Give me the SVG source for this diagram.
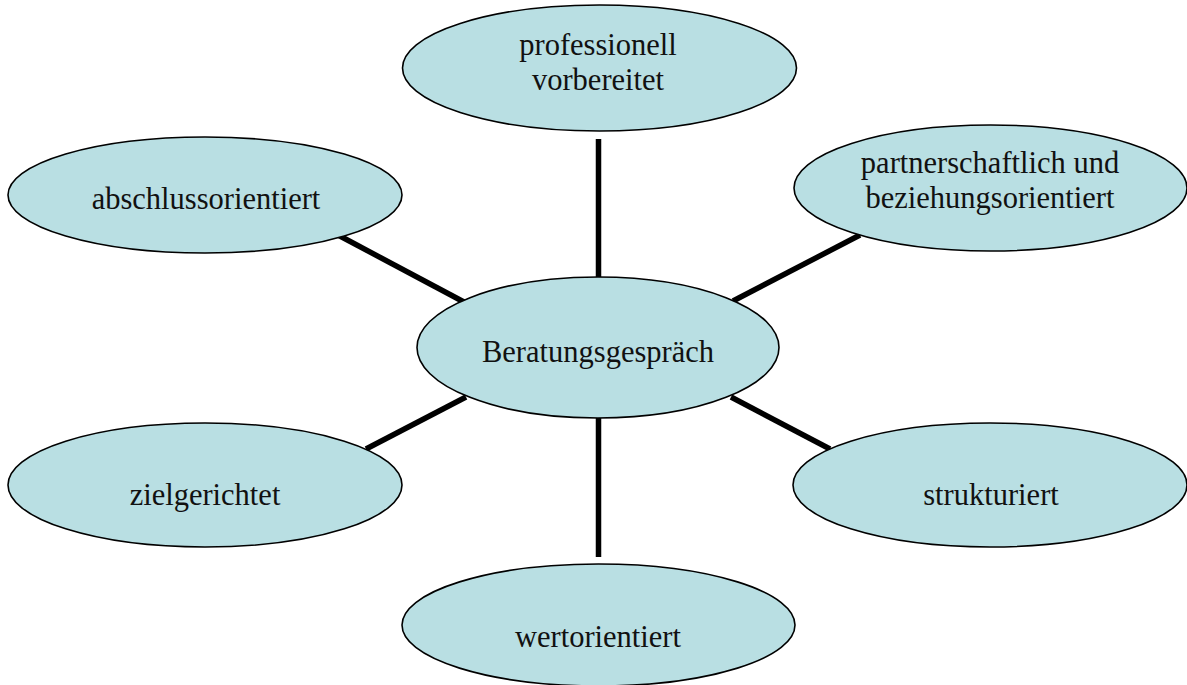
<svg xmlns="http://www.w3.org/2000/svg" width="1187" height="685" viewBox="0 0 1187 685">
<style>
.node ellipse{fill:#b9dfe3;stroke:#000;stroke-width:1.6}
.node text{font-family:"Liberation Serif","DejaVu Serif",serif;font-size:30.5px;fill:#111;text-anchor:middle}
#connectors line{stroke:#000;stroke-width:5.5;stroke-linecap:butt}
</style>
<rect width="1187" height="685" fill="#fff"/>
<g id="connectors">
<line x1="598.5" y1="139" x2="598.5" y2="277"/>
<line x1="598.5" y1="418" x2="598.5" y2="557"/>
<line x1="338" y1="235" x2="464" y2="302"/>
<line x1="860" y1="235" x2="733" y2="301"/>
<line x1="466" y1="397" x2="366" y2="449"/>
<line x1="731" y1="397" x2="830" y2="449"/>
</g>
<g id="node-professionell" class="node">
<ellipse cx="599.5" cy="68" rx="197" ry="63"/>
<text x="598" y="55">professionell</text>
<text x="598" y="90">vorbereitet</text>
</g>
<g id="node-abschluss" class="node">
<ellipse cx="205" cy="195" rx="197" ry="58"/>
<text x="206" y="209">abschlussorientiert</text>
</g>
<g id="node-partnerschaftlich" class="node">
<ellipse cx="990.5" cy="188" rx="196.5" ry="63"/>
<text x="990" y="173">partnerschaftlich und</text>
<text x="990" y="208">beziehungsorientiert</text>
</g>
<g id="node-center" class="node">
<ellipse cx="598" cy="347.5" rx="181" ry="70.5"/>
<text x="598" y="362">Beratungsgespräch</text>
</g>
<g id="node-ziel" class="node">
<ellipse cx="205" cy="485" rx="197" ry="62"/>
<text x="205" y="505">zielgerichtet</text>
</g>
<g id="node-struktur" class="node">
<ellipse cx="990" cy="485" rx="197" ry="62"/>
<text x="991" y="505">strukturiert</text>
</g>
<g id="node-wert" class="node">
<ellipse cx="598.5" cy="625" rx="196.5" ry="61"/>
<text x="598" y="647">wertorientiert</text>
</g>
</svg>
